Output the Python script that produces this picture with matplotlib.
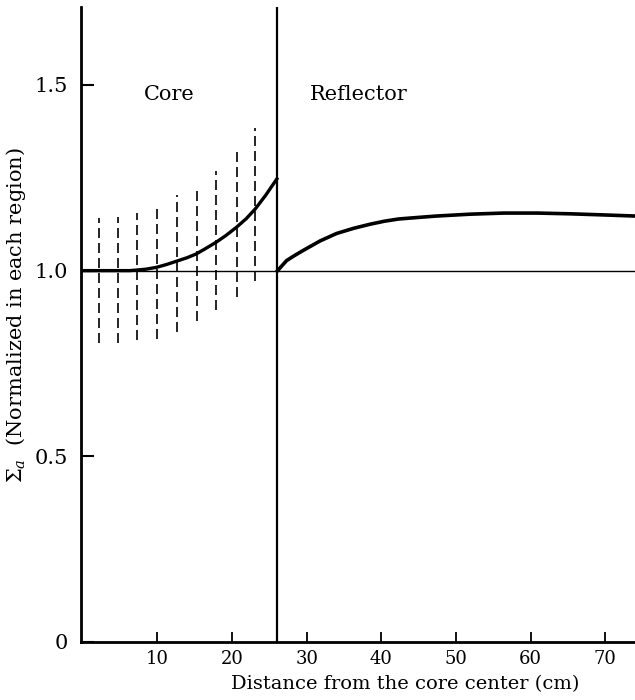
import matplotlib
matplotlib.use("Agg")
import matplotlib.pyplot as plt

plt.rcParams["font.family"] = ["DejaVu Serif"]
plt.rcParams["mathtext.fontset"] = "dejavuserif"

# core / reflector boundary (cm)
boundary = 26.0

# dashed scatter bars in the core: position, top, bottom
bar_x = [2.2, 4.7, 7.3, 10.0, 12.6, 15.3, 17.9, 20.6, 23.1]
bar_top = [1.142, 1.144, 1.155, 1.175, 1.204, 1.225, 1.267, 1.332, 1.383]
bar_bot = [0.806, 0.806, 0.813, 0.816, 0.835, 0.864, 0.893, 0.929, 0.971]

# normalized absorption in the core
core_x = [0.0, 3.0, 6.3, 7.5, 8.5, 9.9, 11.3, 12.8, 14.0, 15.2, 16.5,
          17.9, 19.2, 20.6, 21.9, 23.1, 24.5, 26.0]
core_y = [1.0, 1.0, 1.0, 1.002, 1.004, 1.009, 1.017, 1.027, 1.035, 1.045, 1.06,
          1.077, 1.095, 1.117, 1.14, 1.166, 1.203, 1.247]

# normalized absorption in the reflector
refl_x = [26.1, 27.3, 28.4, 29.5, 31.8, 34.0, 36.3, 38.5, 40.4, 42.3, 44.8,
          47.4, 51.9, 56.4, 60.9, 65.3, 69.8, 74.0]
refl_y = [1.0, 1.027, 1.041, 1.054, 1.08, 1.10, 1.114, 1.125, 1.133, 1.139, 1.143,
          1.147, 1.152, 1.155, 1.155, 1.153, 1.15, 1.147]

fig = plt.figure(figsize=(6.35, 7.0), dpi=100)
ax = fig.add_axes([0.127, 0.083, 0.873, 0.907])

ax.axhline(1.0, color="black", lw=1.0)
ax.axvline(boundary, color="black", lw=1.6)

ax.vlines(bar_x, bar_bot, bar_top, colors="black", lw=1.2,
          linestyles=(0, (6, 3)))
ax.plot(core_x, core_y, color="black", lw=2.4, solid_joinstyle="round")
ax.plot(refl_x, refl_y, color="black", lw=2.6, solid_joinstyle="round")

ax.text(11.6, 1.473, "Core", fontsize=15, ha="center", va="center")
ax.text(37.0, 1.473, "Reflector", fontsize=15, ha="center", va="center")

ax.set_xlim(-0.3, 74.0)
ax.set_ylim(0, 1.71)
ax.set_xticks([10, 20, 30, 40, 50, 60, 70])
ax.set_yticks([0, 0.5, 1.0, 1.5])
ax.set_yticklabels(["0", "0.5", "1.0", "1.5"])

ax.spines["top"].set_visible(False)
ax.spines["right"].set_visible(False)
ax.spines["left"].set_linewidth(2.0)
ax.spines["bottom"].set_linewidth(2.0)
ax.tick_params(axis="y", direction="in", length=9, width=1.5, labelsize=15, pad=9)
ax.tick_params(axis="x", direction="in", length=7, width=1.3, labelsize=13, pad=6)

ax.set_xlabel("Distance from the core center (cm)", fontsize=14)
ax.xaxis.set_label_coords(0.585, -0.052)
ax.set_ylabel(r"$\Sigma_a$  (Normalized in each region)", fontsize=15)
ax.yaxis.set_label_coords(-0.095, 0.515)

fig.savefig("out.png", dpi=100)
